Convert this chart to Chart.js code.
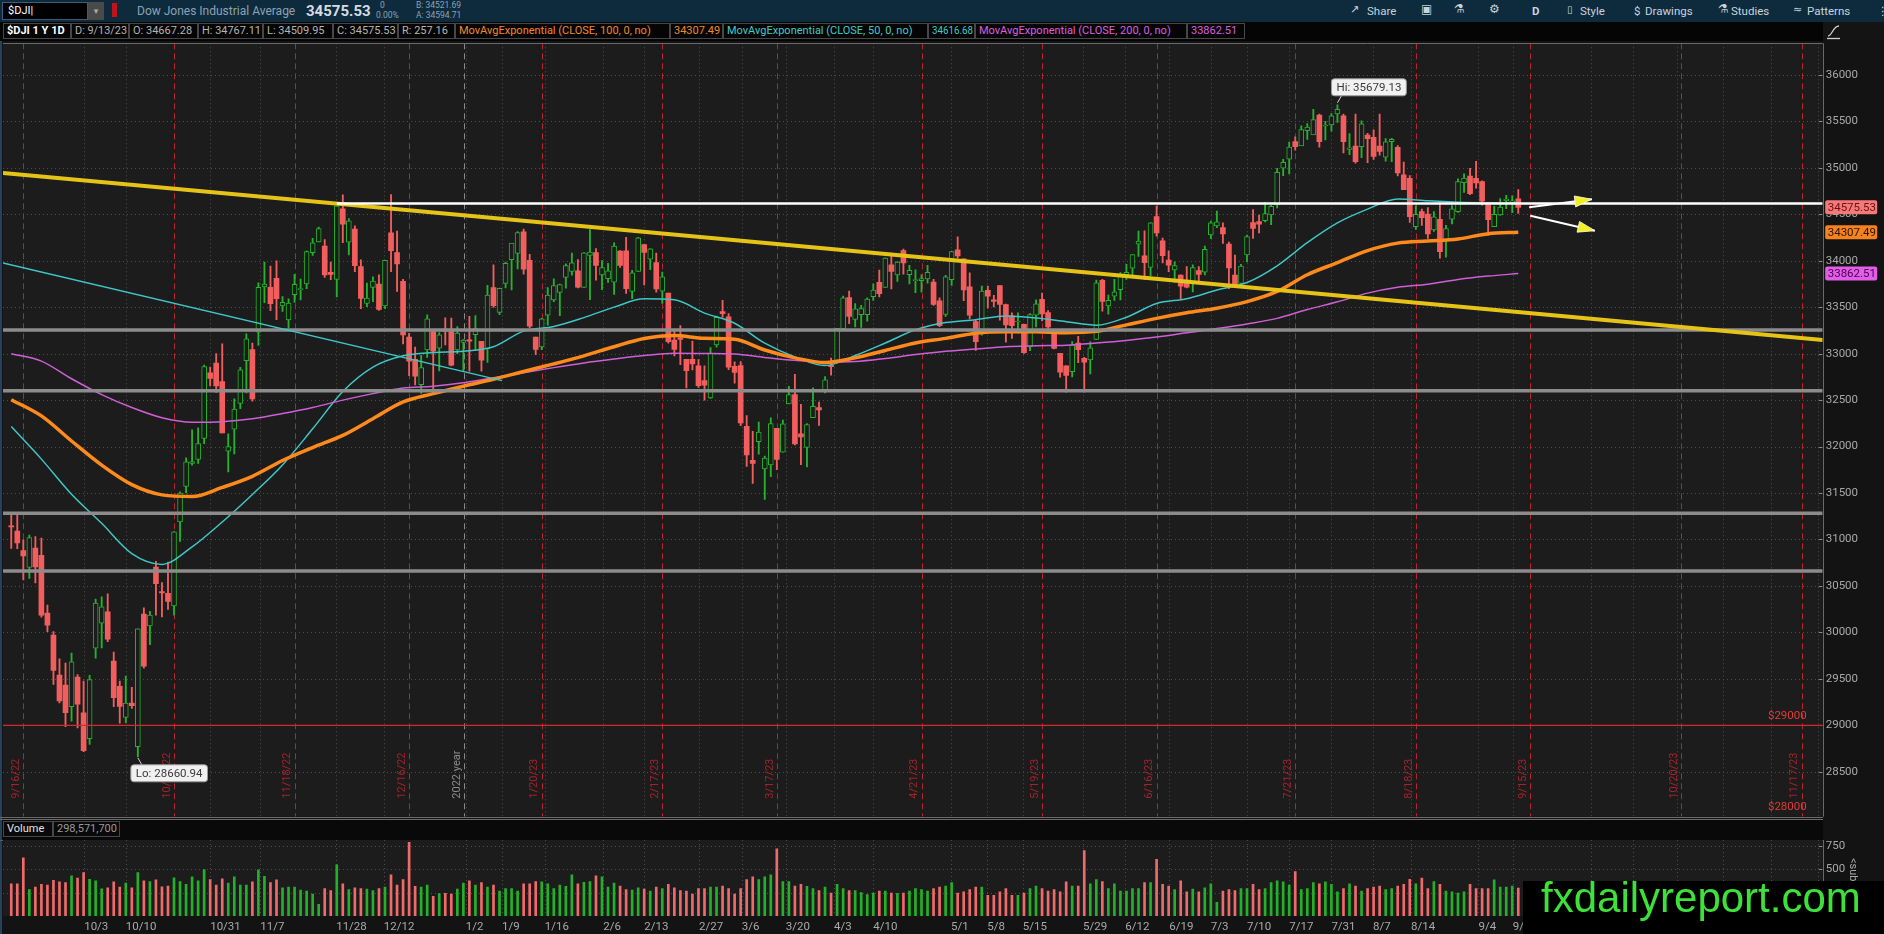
<!DOCTYPE html>
<html><head><meta charset="utf-8">
<script src="https://cdn.jsdelivr.net/npm/chart.js@4.4.1/dist/chart.umd.min.js"></script>
<style>
html,body{margin:0;padding:0;background:#131313;width:1884px;height:934px;overflow:hidden;font-family:Roboto,'Open Sans','DejaVu Sans',sans-serif;}
.a{position:absolute;white-space:nowrap;}
.cell{position:absolute;top:23px;height:16px;border:1px solid #474747;box-sizing:border-box;font-size:11px;line-height:14px;padding:0 3px;white-space:nowrap;color:#b4b4b4;background:#050505;}
.cell span{display:inline-block;transform-origin:left center;}
.tb{position:absolute;top:4px;font-size:11.5px;color:#c9d3dc;white-space:nowrap;}
canvas{position:absolute;}
</style></head><body>

<!-- top toolbar -->
<div class="a" style="left:0;top:0;width:1884px;height:22px;background:#0e2a3d"></div>
<div class="a" style="left:2px;top:2px;width:86px;height:18px;background:#000;border:1px solid #3d5d7a;box-sizing:border-box;color:#fff;font-size:11px;line-height:16px;padding-left:5px">$DJI<span style="color:#fff">|</span></div>
<div class="a" style="left:88px;top:2px;width:16px;height:18px;background:#4a4a4a;color:#aaa;font-size:9px;line-height:18px;text-align:center">&#9662;</div>
<div class="a" style="left:112px;top:3px;width:5px;height:14px;background:#c3121f"></div>
<div class="a" style="left:137px;top:4px;font-size:12px;color:#8ea2b2">Dow Jones Industrial Average</div>
<div class="a" style="left:306px;top:2px;font-size:15px;font-weight:bold;color:#d6dce2">34575.53</div>
<div class="a" style="left:380px;top:0px;font-size:8.5px;color:#8ea2b2">0</div>
<div class="a" style="left:376px;top:10px;font-size:8.5px;color:#8ea2b2">0.00%</div>
<div class="a" style="left:416px;top:0px;font-size:8.5px;color:#8ea2b2">B: 34521.69</div>
<div class="a" style="left:416px;top:10px;font-size:8.5px;color:#8ea2b2">A: 34594.71</div>

<div class="tb" style="left:1350px;font-family:'DejaVu Sans';font-size:11px;top:3px">&#8599;</div>
<div class="tb" style="left:1367px">Share</div>
<div class="tb" style="left:1421px;font-family:'DejaVu Sans';font-size:12px;top:2px">&#9635;</div>
<div class="tb" style="left:1454px;font-family:'DejaVu Sans';font-size:12px;top:2px">&#9879;</div>
<div class="tb" style="left:1489px;font-family:'DejaVu Sans';font-size:12px;top:2px">&#9881;</div>
<div class="tb" style="left:1532px;font-weight:bold">D</div>
<div class="tb" style="left:1567px;font-family:'DejaVu Sans';font-size:10px;top:4px">&#9647;</div>
<div class="tb" style="left:1580px">Style</div>
<div class="tb" style="left:1634px">$</div>
<div class="tb" style="left:1645px">Drawings</div>
<div class="tb" style="left:1718px;font-family:'DejaVu Sans';font-size:12px;top:2px">&#9879;</div>
<div class="tb" style="left:1731px">Studies</div>
<div class="tb" style="left:1793px;font-family:'DejaVu Sans';font-size:11px;top:3px">&#8776;</div>
<div class="tb" style="left:1807px">Patterns</div>
<div class="tb" style="left:1877px">&#8942;</div>

<!-- legend row -->
<div class="a" style="left:0;top:22px;width:1884px;height:19px;background:#050505"></div>
<div class="a" style="left:1823px;top:22px;width:61px;height:19px;background:#141414"></div>
<div class="cell" style="left:3px;width:68px;color:#fff;font-weight:bold"><span data-fit="62">$DJI 1 Y 1D</span></div>
<div class="cell" style="left:71px;width:58px"><span data-fit="52">D: 9/13/23</span></div>
<div class="cell" style="left:129px;width:69px"><span data-fit="63">O: 34667.28</span></div>
<div class="cell" style="left:198px;width:65px"><span data-fit="59">H: 34767.11</span></div>
<div class="cell" style="left:263px;width:70px"><span data-fit="64">L: 34509.95</span></div>
<div class="cell" style="left:333px;width:65px"><span data-fit="59">C: 34575.53</span></div>
<div class="cell" style="left:398px;width:57px"><span data-fit="51">R: 257.16</span></div>
<div class="cell" style="left:455px;width:215px;color:#f0892a"><span data-fit="209">MovAvgExponential (CLOSE, 100, 0, no)</span></div>
<div class="cell" style="left:670px;width:53px;color:#f0892a"><span data-fit="47">34307.49</span></div>
<div class="cell" style="left:723px;width:205px;color:#3fcccc"><span data-fit="199">MovAvgExponential (CLOSE, 50, 0, no)</span></div>
<div class="cell" style="left:928px;width:47px;color:#3fcccc"><span data-fit="41">34616.68</span></div>
<div class="cell" style="left:975px;width:212px;color:#dc5ee0"><span data-fit="206">MovAvgExponential (CLOSE, 200, 0, no)</span></div>
<div class="cell" style="left:1187px;width:58px;color:#dc5ee0"><span data-fit="52">33862.51</span></div>
<svg class="a" style="left:1824px;top:23px" width="20" height="17"><path d="M4 13 C 8 13, 9 3, 15 3" stroke="#cfcfcf" stroke-width="1.3" fill="none"/><line x1="3" y1="15.5" x2="16" y2="15.5" stroke="#cfcfcf" stroke-width="1.3"/></svg>

<!-- left frame strip -->
<div class="a" style="left:0;top:41px;width:2px;height:893px;background:#24425e"></div>

<canvas id="pc" width="1884" height="778" style="left:0;top:41px;width:1884px;height:778px"></canvas>

<!-- panel separators and volume header -->
<div class="a" style="left:0;top:817px;width:1823px;height:1px;background:#6b6b6b"></div>
<div class="a" style="left:0;top:819px;width:1823px;height:1px;background:#6b6b6b"></div>
<div class="a" style="left:2px;top:820px;width:1821px;height:20px;background:#090909"></div>
<div class="cell" style="top:821px;left:3px;width:50px;color:#e2e2e2;background:#090909"><span data-fit="44">Volume</span></div>
<div class="cell" style="top:821px;left:53px;width:67px;color:#9a9a9a;background:#090909"><span data-fit="61">298,571,700</span></div>
<div class="a" style="left:0;top:840px;width:1823px;height:1px;background:#5c5c5c"></div>

<canvas id="vc" width="1884" height="100" style="left:0;top:834px;width:1884px;height:100px"></canvas>

<div class="a" style="left:1860px;top:858px;font-size:11px;color:#a8a8a8;transform:rotate(90deg);transform-origin:left top">&lt;sub</div>

<!-- watermark -->
<div class="a" style="left:1523px;top:881px;width:361px;height:53px;background:#000;overflow:visible">
  <div class="a" style="left:18px;top:-4px;font-family:'Liberation Sans',Arial,sans-serif;font-size:42px;line-height:42px;color:#3ee03a">fxdailyreport.com</div>
</div>

<script>
// ---------------- DATA ----------------
// bars are placed by trading-day index: 10/3/22 = 0, first bar 9/14/22 = -13, last bar 9/13/23 = 237
const firstIdx = -13;

const opens = [
 31142,31090,30880,30700,30908,30830,30209,29970,29540,29434,29200,29520,29133,
 28856,29830,30100,30220,29690,29420,29086,29240,28770,30198,30069,30704,30440,30420,30285,31190,31570,31818,31861,32088,32795,
 32900,32700,31950,32188,32464,32924,33044,33231,33718,33713,33811,33513,33364,33634,33690,33752,34087,34202,34159,33875,33800,
 34560,34200,34342,33937,33540,33713,33750,33513,34300,34087,33780,33180,32940,32667,33040,33237,33060,33265,33264,33040,33121,
 33148,33205,33132,33053,33712,33444,33757,34012,34078,34312,34005,33179,33073,33414,33580,33660,33822,33885,33891,33712,
 34058,34089,33848,33807,33769,34105,34106,33671,33885,34174,34017,33980,33673,33651,33147,33171,32939,32938,32868,
 32711,32525,33094,33452,33398,32864,32871,32219,31852,32053,31760,31803,32197,31940,32458,32561,32137,31991,32311,32419,32598,32875,32900,
 33270,33605,33368,33420,33420,33614,33767,33713,33957,33849,34111,33850,33786,33786,33805,33770,33570,33422,33797,
 34117,34020,33719,33346,33230,33682,33581,33733,33528,33407,33341,33317,33073,33415,33586,33442,33249,33003,32868,32807,33115,32950,
 32932,33153,33790,33515,33620,33690,33850,33920,34180,34052,33929,34475,34216,34008,33901,33847,33793,33775,33894,33878,34278,
 34375,34357,34181,33847,33757,34062,34411,34421,34432,34493,34601,34996,35093,35282,35236,35401,35354,35569,35451,35462,
 35580,35559,35200,35236,35228,35354,35329,35236,35114,35282,35222,34924,34888,34367,34529,34504,34332,34447,34224,34447,34529,34841,34913,
 34888,34852,34611,34367,34493,34647,34626,34667.28
];
const highs = [
 31289,31285,30995,31048,31030,31016,30295,30010,29715,29670,29777,29545,29475,
 29537,30359,30382,30414,29789,29476,29530,29409,30039,30265,30227,30766,30537,30756,31086,31513,31879,32180,32202,32877,32857,
 33000,33106,32138,32515,32853,33215,33115,33763,33987,33944,34000,33614,33590,33855,33804,34106,34241,34363,34228,33987,34590,
 34711,34453,34375,34009,33761,33827,33848,34006,34712,34321,33800,33218,33072,32981,33419,33260,33226,33387,33384,33293,33152,
 33401,33409,33132,33737,33957,33705,33985,34188,34313,34342,34069,33179,33380,33711,33805,33750,33968,34082,34012,34088,
 34335,34130,34001,33972,34192,34111,34252,33897,34253,34174,34132,34083,33879,33651,33250,33302,32939,33135,32937,
 32870,33067,33405,33573,33432,32911,32915,32334,32163,32265,31899,32310,32197,32285,32649,32778,32455,32247,32632,32478,32754,32954,33274,
 33621,33675,33540,33520,33600,33752,33900,34033,34082,33992,34126,33950,33903,33850,33950,33800,33600,33844,34104,
 34257,34020,33869,33369,33727,33729,33627,33734,33533,33441,33440,33318,33432,33579,33652,33465,33249,33003,32870,33130,33187,32960,
 33128,33793,33800,33632,33800,33873,33963,34067,34320,34322,34410,34588,34244,34108,33990,33850,33938,33956,33937,34158,34427,
 34535,34409,34200,34061,33963,34276,34552,34493,34630,34600,34994,35091,35279,35335,35453,35478,35630,35578,35500,35585,
 35679.13,35580,35369,35580,35507,35372,35409,35578,35316,35319,35240,35063,34916,34591,34556,34573,34529,34625,34382,34595,34883,34935,34995,
 35070,34860,34613,34586,34670,34705,34700,34767.11
];
const lows = [
 30903,30900,30564,30581,30533,30165,30008,29439,29240,28985,29045,28971,28715,
 28794,29723,29832,29900,29201,29022,29029,29182,28660.94,29614,29867,30186,30166,30247,30186,30980,31500,31800,31820,32031,32652,
 32582,32146,31727,31921,32408,32578,32489,33090,33548,33462,33365,33454,33278,33551,33578,33701,34059,34202,33820,33797,33611,
 34196,34062,33883,33485,33505,33560,33467,33484,33883,33670,33104,32764,32663,32573,32959,32573,32814,33095,32869,33001,32816,
 32812,33040,32812,32906,33497,33420,33708,33686,33912,33856,33276,32990,33044,33306,33560,33410,33706,33844,33708,33712,
 33582,33791,33690,33766,33637,33929,33650,33593,33885,33741,33905,33661,33542,33114,32976,32882,32632,32824,32636,
 32500,32518,33069,33393,32827,32682,32224,31787,31604,31919,31430,31676,31752,31940,32458,32018,31805,31780,32311,32229,32577,32769,32900,
 33268,33323,33287,33284,33350,33572,33610,33713,33697,33778,33857,33750,33656,33662,33760,33520,33291,33400,33735,
 34027,33570,33373,33034,33200,33491,33503,33361,33125,33165,33220,33002,33032,33289,33353,33246,33050,32746,32586,32751,32902,32587,
 32783,33153,33458,33424,33574,33579,33799,33848,34048,33798,33840,34266,33977,33882,33766,33592,33709,33665,33758,33847,34238,
 34356,34188,33699,33712,33727,33988,34240,34299,34418,34390,34570,34917,34936,35191,35244,35306,35371,35222,35300,35395,
 35488,35162,35142,35050,35109,35055,35091,35138,35072,35067,34913,34765,34412,34337,34380,34242,34315,34029,34040,34396,34520,34737,34712,
 34781,34599,34274,34367,34487,34562,34517,34509.95
];
const closes = [
 31135,30962,30822,31020,30706,30184,30077,29590,29261,29135,29684,29226,28726,
 29491,30316,30274,29927,29297,29203,29239,29211,30039,29635,30186,30524,30424,30334,31083,31500,31837,31839,32033,32862,32733,
 32653,32148,32001,32403,32827,33161,32514,33715,33748,33537,33593,33554,33546,33746,33700,34098,34194,34347,33849,33853,34590,
 34395,34430,33947,33596,33598,33781,33476,34005,34109,33966,33202,32920,32758,32850,33376,33027,33204,33242,32876,33221,33147,
 33136,33270,32930,33631,33518,33704,33973,34190,34303,33911,33297,33045,33375,33630,33734,33744,33949,33978,33717,34086,
 34093,33949,33926,33891,34157,33949,33700,33869,34246,34089,34128,33697,33827,33130,33045,33154,32817,32889,32657,
 32662,33004,33391,33431,32856,32798,32255,31910,31819,32155,31875,32247,31862,32245,32561,32030,32105,32238,32432,32394,32718,32859,33274,
 33601,33402,33483,33485,33587,33685,33647,34030,33886,33987,33977,33897,33787,33809,33875,33531,33302,33826,34098,
 34052,33685,33414,33128,33674,33619,33562,33531,33310,33301,33349,33012,33421,33536,33427,33287,33056,32800,32765,33093,33043,32908,
 33062,33763,33563,33573,33665,33834,33877,34066,34212,33979,34408,34299,34054,33952,33947,33727,33715,33927,33853,34122,34408,
 34418,34289,33922,33735,33944,34261,34347,34395,34509,34585,34952,35061,35225,35228,35411,35438,35520,35283,35459,35560,
 35631,35283,35216,35066,35473,35314,35123,35176,35281,35308,34946,34766,34475,34501,34464,34289,34473,34099,34347,34560,34853,34890,34722,
 34838,34642,34443,34501,34577,34664,34646,34575.53
];
// volume, millions
const volumes = [
 345,345,621,283,309,338,331,382,364,356,430,404,463,393,375,290,301,364,309,353,
 301,463,375,367,386,312,320,408,367,338,419,375,496,390,331,397,353,419,331,331,
 364,492,423,356,386,301,309,309,276,265,235,125,294,272,548,345,283,301,294,287,
 272,294,309,441,331,390,786,316,309,331,209,239,243,235,287,353,375,331,356,309,
 331,265,294,294,265,345,345,367,364,345,294,331,316,441,345,360,367,430,419,309,
 353,320,283,276,301,287,265,309,294,338,301,272,265,235,294,294,309,309,320,294,
 235,294,390,419,390,419,441,717,367,367,320,338,316,294,272,309,246,338,294,272,
 272,250,228,246,265,265,246,243,246,265,294,283,265,294,309,320,
 356,246,257,283,309,309,220,220,257,294,220,220,246,294,320,294,265,283,257,364,
 320,320,698,345,390,367,294,345,265,265,294,294,356,356,606,338,320,283,375,257,
 287,257,301,345,147,265,283,272,294,294,338,283,294,356,375,364,331,474,283,294,
 356,345,364,338,257,294,345,320,265,294,309,320,283,294,320,338,393,345,404,294,
 367,338,265,257,246,257,338,294,294,294,386,309,309,320,299
];

// exponential moving averages, sampled every 5 bars
const emaIdx = [-13,-8,-3,2,7,12,17,22,27,32,37,42,47,52,57,62,67,72,77,82,87,92,97,102,107,112,117,122,127,132,137,142,147,152,157,162,167,172,177,182,187,192,197,202,207,212,217,222,227,232,237];
const ema50 = [32215,31865,31487,31174,30848,30732,30920,31188,31485,31803,32191,32592,32855,32977,33013,33027,33075,33243,33292,33388,33501,33590,33580,33437,33328,33113,32965,32873,32980,33115,33257,33335,33366,33405,33384,33345,33307,33393,33540,33592,33685,33766,33946,34195,34408,34556,34666,34645,34630,34622,34616.68];
const ema100 = [32505,32330,32060,31800,31590,31480,31462,31560,31680,31850,31990,32120,32300,32480,32570,32650,32725,32808,32890,32977,33075,33163,33195,33166,33156,33040,32955,32905,32955,33035,33115,33165,33221,33237,33237,33225,33240,33310,33380,33440,33490,33560,33670,33850,33980,34110,34190,34212,34235,34292,34307.49];
const ema200 = [33000,32920,32730,32560,32420,32310,32262,32268,32300,32355,32420,32500,32570,32630,32650,32688,32740,32795,32850,32900,32942,32980,33004,33002,32997,32960,32928,32908,32915,32948,32990,33025,33050,33075,33085,33092,33115,33143,33180,33225,33270,33320,33380,33475,33558,33652,33715,33748,33798,33835,33862.51];

// drawn levels and trend lines
const grayLevels = [33255, 32600, 31282, 30661];
const redLevel = 29000;
const whiteLevel = 34616;
const whiteStartIdx = 41;
const yellowIdx = [-14.37, 287.5], yellowVal = [34945, 33148];
const cyanIdx = [-14.37, 68.4], cyanVal = [33976, 32710];
const arrowIdx0 = [238.8, 239.0], arrowVal0 = [34576, 34485];
const arrowIdx1 = [249.2, 249.7], arrowVal1 = [34662, 34324];

// axis tick labels
const priceTicks = [28500,29000,29500,30000,30500,31000,31500,32000,32500,33000,33500,34000,34500,35000,35500,36000];
const volumeTicks = [250, 500, 750];
const tickIdx = [-0.9,6,20,28.3,40.9,48.8,62.4,68.4,75.5,85.2,92,101.1,108.2,115.5,123.5,130,142.9,148.9,154.8,164.8,171.8,179.1,186,192,199,206,212.9,219.2,230.4,236.1];
const tickLbl = ['10/3','10/10','10/31','11/7','11/28','12/12','1/2','1/9','1/16','2/6','2/13','2/27','3/6','3/20','4/3','4/10','5/1','5/8','5/15','5/29','6/12','6/19','7/3','7/10','7/17','7/31','8/7','8/14','9/4','9/11'];
const futureGridIdx = [249, 256, 263.3, 271, 279, 286.7];
// monthly expiration markers
const opexIdx = [-11,14,34,53,75,95,114,138,158,177,200,220,239,264,284];
const opexLbl = ['9/16/22','10/21/22','11/18/22','12/16/22','1/20/23','2/17/23','3/17/23','4/21/23','5/19/23','6/16/23','7/21/23','8/18/23','9/15/23','10/20/23','11/17/23'];
const yearIdx = 62.1, yearLbl = '2022 year';
const priceMarks = [29000, 28000];

// ---------------- RENDERING ----------------
document.querySelectorAll('[data-fit]').forEach(el => {
  const w = +el.dataset.fit, sw = el.getBoundingClientRect().width;
  if (sw > w) el.style.transform = 'scaleX(' + (w / sw) + ')';
});

Chart.defaults.font.family = "Roboto, 'Open Sans', 'DejaVu Sans', sans-serif";
Chart.defaults.font.size = 11.5;
Chart.defaults.color = '#a9a9a9';

const PLOT_BG = '#1c1c1c', GREEN = '#25b22c', RED = '#f25e5e';
const xMin = -14.37, xMax = 287.5, axisW = 61.3;
const xs = closes.map((_, k) => firstIdx + k);
const up = k => closes[k] >= opens[k];
const gridIdx = tickIdx.concat(futureGridIdx);

const bgPlugin = { id: 'bg', beforeDraw(chart) {
  const { ctx, chartArea: a } = chart;
  ctx.save(); ctx.fillStyle = PLOT_BG; ctx.fillRect(a.left, a.top, a.right - a.left, a.bottom - a.top); ctx.restore();
}};

function drawGrid(chart, yVals) {
  const { ctx, chartArea: a, scales: { x, y } } = chart;
  ctx.save();
  ctx.beginPath(); ctx.rect(a.left, a.top, a.right - a.left, a.bottom - a.top); ctx.clip();
  ctx.strokeStyle = '#4d4d4d'; ctx.lineWidth = 1; ctx.setLineDash([1, 3]);
  yVals.forEach(v => { const py = Math.round(y.getPixelForValue(v)) + 0.5; ctx.beginPath(); ctx.moveTo(a.left, py); ctx.lineTo(a.right, py); ctx.stroke(); });
  gridIdx.forEach(v => { const px = Math.round(x.getPixelForValue(v)) + 0.5; ctx.beginPath(); ctx.moveTo(px, a.top); ctx.lineTo(px, a.bottom); ctx.stroke(); });
  ctx.setLineDash([]); ctx.strokeStyle = '#8a8a8a';
  yVals.forEach(v => { const py = Math.round(y.getPixelForValue(v)) + 0.5; ctx.beginPath(); ctx.moveTo(a.right - 4, py); ctx.lineTo(a.right, py); ctx.stroke(); });
  ctx.restore();
}
function drawFrame(chart, top) {
  const { ctx, chartArea: a } = chart;
  ctx.save(); ctx.strokeStyle = '#6a6a6a'; ctx.lineWidth = 1;
  ctx.beginPath();
  if (top) { ctx.moveTo(a.left, Math.round(a.top) + 0.5); ctx.lineTo(a.right, Math.round(a.top) + 0.5); }
  ctx.moveTo(Math.round(a.right) + 0.5, a.top); ctx.lineTo(Math.round(a.right) + 0.5, a.bottom);
  ctx.stroke(); ctx.restore();
}
function roundRect(ctx, x, y, w, h, r) {
  ctx.beginPath(); ctx.moveTo(x + r, y); ctx.lineTo(x + w - r, y); ctx.quadraticCurveTo(x + w, y, x + w, y + r);
  ctx.lineTo(x + w, y + h - r); ctx.quadraticCurveTo(x + w, y + h, x + w - r, y + h); ctx.lineTo(x + r, y + h);
  ctx.quadraticCurveTo(x, y + h, x, y + h - r); ctx.lineTo(x, y + r); ctx.quadraticCurveTo(x, y, x + r, y); ctx.closePath();
}

const priceGrid = { id: 'priceGrid', beforeDatasetsDraw(chart) {
  const { ctx, chartArea: a, scales: { x } } = chart;
  drawGrid(chart, chart.scales.y.ticks.map(t => t.value));
  ctx.save();
  ctx.beginPath(); ctx.rect(a.left, a.top, a.right - a.left, a.bottom - a.top); ctx.clip();
  ctx.lineWidth = 1; ctx.setLineDash([6, 4]);
  ctx.strokeStyle = '#b8232e';
  opexIdx.forEach(v => { const px = Math.round(x.getPixelForValue(v)) + 0.5; ctx.beginPath(); ctx.moveTo(px, a.top); ctx.lineTo(px, a.bottom); ctx.stroke(); });
  ctx.strokeStyle = '#8a8a8a';
  const yx = Math.round(x.getPixelForValue(yearIdx)) + 0.5; ctx.beginPath(); ctx.moveTo(yx, a.top); ctx.lineTo(yx, a.bottom); ctx.stroke();
  ctx.restore();
}};

const priceOverlay = { id: 'priceOverlay',
  afterDatasetsDraw(chart) {
    const { ctx, chartArea: a, scales: { x, y } } = chart;
    ctx.save();
    ctx.font = "11px Roboto, 'Open Sans', sans-serif";
    ctx.textBaseline = 'bottom'; ctx.textAlign = 'left';
    const baseY = a.bottom - 18;
    opexIdx.forEach((v, k) => {
      const px = x.getPixelForValue(v);
      ctx.save(); ctx.translate(px - 1.5, baseY); ctx.rotate(-Math.PI / 2); ctx.fillStyle = '#a3232d'; ctx.fillText(opexLbl[k], 0, 0); ctx.restore();
    });
    ctx.save(); ctx.translate(x.getPixelForValue(yearIdx) - 1.5, baseY); ctx.rotate(-Math.PI / 2); ctx.fillStyle = '#8c8c8c'; ctx.fillText(yearLbl, 0, 0); ctx.restore();
    // price marker labels
    ctx.fillStyle = '#e23a3a'; ctx.textAlign = 'right'; ctx.font = "11.5px Roboto, 'Open Sans', sans-serif";
    ctx.fillText('$' + priceMarks[0], a.right - 16, y.getPixelForValue(priceMarks[0]) - 3);
    ctx.fillText('$' + priceMarks[1], a.right - 16, y.getPixelForValue(priceMarks[1]) - 5);
    // arrow heads
    arrowIdx1.forEach((v, k) => {
      const x0 = x.getPixelForValue(arrowIdx0[k]), y0 = y.getPixelForValue(arrowVal0[k]);
      const x1 = x.getPixelForValue(v), y1 = y.getPixelForValue(arrowVal1[k]);
      const ang = Math.atan2(y1 - y0, x1 - x0), L = 17, W = 5.5;
      const bx = x1 - L * Math.cos(ang), by = y1 - L * Math.sin(ang);
      ctx.beginPath(); ctx.moveTo(x1, y1);
      ctx.lineTo(bx + W * Math.sin(ang), by - W * Math.cos(ang));
      ctx.lineTo(bx - W * Math.sin(ang), by + W * Math.cos(ang));
      ctx.closePath(); ctx.fillStyle = '#f0f020'; ctx.fill();
      ctx.strokeStyle = '#fffff0'; ctx.lineWidth = 0.8; ctx.stroke();
    });
    // Hi / Lo callouts
    let hiK = 0, loK = 0;
    highs.forEach((h, k) => { if (h > highs[hiK]) hiK = k; });
    lows.forEach((l, k) => { if (l < lows[loK]) loK = k; });
    ctx.font = "11.5px Roboto, 'Open Sans', sans-serif"; ctx.textAlign = 'left'; ctx.textBaseline = 'middle';
    const call = (k, val, above) => {
      const px = x.getPixelForValue(xs[k]), py = y.getPixelForValue(val);
      const txt = (above ? 'Hi: ' : 'Lo: ') + val.toFixed(2);
      const w = ctx.measureText(txt).width + 10, h = 17;
      const bx = px - (above ? 6 : 7), by = above ? py - 26 : py + 8;
      ctx.strokeStyle = '#d0d0d0'; ctx.lineWidth = 1; ctx.beginPath();
      if (above) { ctx.moveTo(px, py - 2); ctx.lineTo(px + 4, by + h); } else { ctx.moveTo(px, py + 1); ctx.lineTo(px + 4, by); }
      ctx.stroke();
      roundRect(ctx, bx, by, w, h, 3); ctx.fillStyle = '#f1f1f1'; ctx.fill(); ctx.strokeStyle = '#9a9a9a'; ctx.stroke();
      ctx.fillStyle = '#3a3a3a'; ctx.fillText(txt, bx + 5, by + h / 2 + 0.5);
    };
    call(hiK, highs[hiK], true);
    call(loK, lows[loK], false);
    ctx.restore();
  },
  afterDraw(chart) {
    const { ctx, chartArea: a, scales: { y } } = chart;
    drawFrame(chart, true);
    ctx.save();
    ctx.font = "11.5px Roboto, 'Open Sans', sans-serif"; ctx.textBaseline = 'middle'; ctx.textAlign = 'left';
    const tags = [[closes[closes.length - 1], '#f47a7a', '#6b0f0f'], [ema100[ema100.length - 1], '#f4821f', '#2e1600'], [ema200[ema200.length - 1], '#e25ee6', '#4a0050']];
    tags.forEach(([v, bg, fg]) => {
      const py = y.getPixelForValue(v);
      roundRect(ctx, a.right + 2.5, py - 7, 52, 14, 2); ctx.fillStyle = bg; ctx.fill();
      ctx.fillStyle = fg; ctx.fillText(v.toFixed(2), a.right + 5, py + 0.5);
    });
    ctx.restore();
  }
};

const lineDs = (label, pts, color, width, order, extra) => Object.assign({
  type: 'line', label, data: pts, borderColor: color, borderWidth: width, pointRadius: 0, fill: false, order,
  borderCapStyle: 'butt', tension: 0
}, extra || {});

const datasets = [
  { type: 'bar', label: 'wick', data: xs.map((x, k) => ({ x, y: [lows[k], highs[k]] })), barThickness: 1.2, grouped: false,
    backgroundColor: c => up(c.dataIndex) ? GREEN : RED, borderWidth: 0, order: 10 },
  { type: 'bar', label: 'body', data: xs.map((x, k) => ({ x, y: [opens[k], closes[k]] })), barThickness: 5, grouped: false,
    borderSkipped: false, minBarLength: 1,
    backgroundColor: c => up(c.dataIndex) ? PLOT_BG : RED, borderColor: c => up(c.dataIndex) ? GREEN : RED,
    borderWidth: c => up(c.dataIndex) ? 1 : 0, order: 9 },
  lineDs('EMA200', emaIdx.map((x, k) => ({ x, y: ema200[k] })), '#cf5fd6', 1.5, 7, { cubicInterpolationMode: 'monotone' }),
  lineDs('EMA50', emaIdx.map((x, k) => ({ x, y: ema50[k] })), '#3fc6c6', 1.5, 7, { cubicInterpolationMode: 'monotone' }),
  lineDs('EMA100', emaIdx.map((x, k) => ({ x, y: ema100[k] })), '#ff8a1c', 3.5, 6, { cubicInterpolationMode: 'monotone' }),
  ...grayLevels.map(v => lineDs('level ' + v, [{ x: xMin, y: v }, { x: xMax, y: v }], '#8c8c8c', 3.5, 5)),
  lineDs('support 29000', [{ x: xMin, y: redLevel }, { x: xMax, y: redLevel }], '#d42a2a', 1.2, 4),
  lineDs('cyan trend', cyanIdx.map((x, k) => ({ x, y: cyanVal[k] })), '#3fc6c6', 1.5, 4),
  lineDs('yellow trend', yellowIdx.map((x, k) => ({ x, y: yellowVal[k] })), '#e6c417', 4, 3),
  lineDs('white level', [{ x: whiteStartIdx, y: whiteLevel }, { x: xMax, y: whiteLevel }], '#ffffff', 2.5, 2),
  ...arrowIdx0.map((v, k) => lineDs('arrow ' + k, [{ x: v, y: arrowVal0[k] }, { x: arrowIdx1[k], y: arrowVal1[k] }], '#ffffff', 2, 1))
];

new Chart(document.getElementById('pc'), {
  type: 'bar',
  data: { datasets },
  options: {
    responsive: false, animation: false, events: [],
    layout: { padding: { left: 3, right: 0, top: 2.3, bottom: 2.3 } },
    plugins: { legend: { display: false }, tooltip: { enabled: false } },
    scales: {
      x: { type: 'linear', min: xMin, max: xMax, display: false, offset: false },
      y: { type: 'linear', position: 'right', min: 28016, max: 36341, beginAtZero: false,
           grid: { display: false, drawTicks: false }, border: { display: false },
           afterBuildTicks(s) { s.ticks = priceTicks.map(v => ({ value: v })); },
           ticks: { autoSkip: false, padding: 3, color: '#a9a9a9', callback: v => String(v) },
           afterFit(s) { s.width = axisW; s.paddingTop = 0; s.paddingBottom = 0; } }
    }
  },
  plugins: [bgPlugin, priceGrid, priceOverlay]
});

const volGrid = { id: 'volGrid',
  beforeDatasetsDraw(chart) { drawGrid(chart, chart.scales.y.ticks.map(t => t.value)); },
  afterDraw(chart) { drawFrame(chart, false); }
};

new Chart(document.getElementById('vc'), {
  type: 'bar',
  data: { datasets: [{ label: 'Volume', data: xs.map((x, k) => ({ x, y: volumes[k] })), barThickness: 2, grouped: false,
    backgroundColor: c => up(c.dataIndex) ? '#25b02a' : '#ef6a6a', borderWidth: 0 }] },
  options: {
    responsive: false, animation: false, events: [],
    layout: { padding: { left: 3, right: 0, top: 6, bottom: 0 } },
    plugins: { legend: { display: false }, tooltip: { enabled: false } },
    scales: {
      x: { type: 'linear', min: xMin, max: xMax, offset: false,
           grid: { display: false, drawTicks: false }, border: { display: false },
           afterBuildTicks(s) { s.ticks = tickIdx.map(v => ({ value: v })); },
           ticks: { autoSkip: false, maxRotation: 0, minRotation: 0, align: 'start', padding: 4, color: '#a9a9a9',
                    callback: (v, k) => tickLbl[k] },
           afterFit(s) { s.height = 18; s.paddingLeft = 0; s.paddingRight = 0; } },
      y: { type: 'linear', position: 'right', min: 0, max: 812, beginAtZero: true,
           grid: { display: false, drawTicks: false }, border: { display: false },
           afterBuildTicks(s) { s.ticks = volumeTicks.map(v => ({ value: v })); },
           ticks: { autoSkip: false, padding: 3, color: '#a9a9a9', callback: v => String(v) },
           afterFit(s) { s.width = axisW; s.paddingTop = 0; s.paddingBottom = 0; } }
    }
  },
  plugins: [bgPlugin, volGrid]
});
</script>
</body></html>
